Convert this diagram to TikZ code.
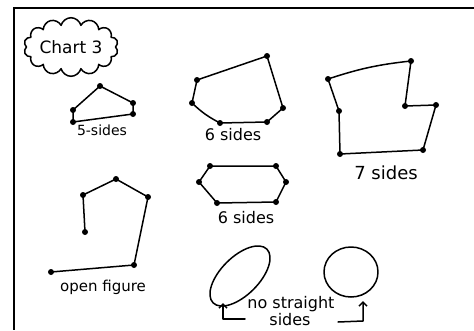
\documentclass[tikz,border=0pt]{standalone}
\usepackage{amsmath}
\usepackage{fontspec}
\setmainfont{DejaVu Sans}
\usepackage{tikz}
\usetikzlibrary{shapes.symbols,arrows.meta}

\tikzset{
  pen/.style={line width=1.5pt,line cap=round,line join=round},
  vdot/.style={circle,fill,inner sep=0pt,minimum size=6pt},
  hand/.style={font=\fontsize{#1}{#1}\selectfont,inner sep=0pt},
  hand/.default=16
}

\begin{document}
\begin{tikzpicture}[x=1pt,y=-1pt]
			\useasboundingbox (0,0) rectangle (474,330);
			\draw[line width=2.2pt] (474,8) -- (14,8) -- (14,330);
			\node[cloud,draw,pen,cloud puffs=14,aspect=2,minimum width=92pt,minimum height=50pt,hand=17] (title) at (71,47) {Chart 3};
			% 5 sides
			\coordinate (p1) at (100,86); \coordinate (p2) at (133,103); \coordinate (p3) at (133,114);
			\coordinate (p4) at (73,122); \coordinate (p5) at (73,110);
			\draw[pen] (p1) -- (p2) -- (p3) -- (p4) -- (p5) -- cycle;
			\foreach \p in {p1,p2,p3,p4,p5} \node[vdot] at (\p) {};
			\node[hand=14] (lab5) at (102,130) {5-sides};
			% 6 sides, top
			\coordinate (h1) at (267,56); \coordinate (h2) at (283,108); \coordinate (h3) at (267,122);
			\coordinate (h4) at (220,123); \coordinate (h5) at (192,103); \coordinate (h6) at (197,80);
			\draw[pen] (h1) -- (h2) -- (h3) -- (h4) to[bend left=8] (h5) -- (h6) -- cycle;
			\foreach \p in {h1,h2,h3,h4,h5,h6} \node[vdot] at (\p) {};
			\node[hand] (lab6a) at (233,135) {6 sides};
			% 7 sides
			\coordinate (s1) at (411,61); \coordinate (s2) at (405,106); \coordinate (s3) at (436,105);
			\coordinate (s4) at (423,150); \coordinate (s5) at (340,154); \coordinate (s6) at (339,111);
			\coordinate (s7) at (328,79);
			\draw[pen] (s1) -- (s2) -- (s3) -- (s4) -- (s5) -- (s6) -- (s7) to[bend left=6] (s1);
			\foreach \p in {s1,s2,s3,s4,s5,s6,s7} \node[vdot] at (\p) {};
			\node[hand=18] (lab7) at (386,173) {7 sides};
			% open figure
			\coordinate (o1) at (85,232); \coordinate (o2) at (83,195); \coordinate (o3) at (116,179);
			\coordinate (o4) at (148,197); \coordinate (o5) at (134,265); \coordinate (o6) at (51,272);
			\draw[pen] (o1) -- (o2) -- (o3) -- (o4) -- (o5) -- (o6);
			\foreach \p in {o1,o2,o3,o4,o5,o6} \node[vdot] at (\p) {};
			\node[hand=15] (labo) at (103,287) {open figure};
			% 6 sides, bottom
			\coordinate (q1) at (210,166); \coordinate (q2) at (276,166); \coordinate (q3) at (286,182);
			\coordinate (q4) at (276,202); \coordinate (q5) at (217,203); \coordinate (q6) at (199,182);
			\draw[pen] (q1) -- (q2) -- (q3) -- (q4) -- (q5) -- (q6) -- cycle;
			\foreach \p in {q1,q2,q3,q4,q5,q6} \node[vdot] at (\p) {};
			\node[hand] (lab6b) at (246,218) {6 sides};
			% no straight sides
			\draw[pen] (240,276) ellipse [x radius=38,y radius=19,rotate=45];
			\draw[pen] (351,272) ellipse [x radius=27,y radius=25];
			\node[hand=16] (labn) at (291,304) {no straight};
			\node[hand=16] (labs) at (290,320) {sides};
			\coordinate (la) at (245,319); \coordinate (ra) at (338,322);
			\draw[pen,-{Straight Barb[length=4pt,width=8pt]}] (la) -| (223,303);
			\draw[pen,-{Straight Barb[length=4pt,width=8pt]}] (ra) -- (363,321) -- (363,301);
		\end{tikzpicture}
\end{document}
